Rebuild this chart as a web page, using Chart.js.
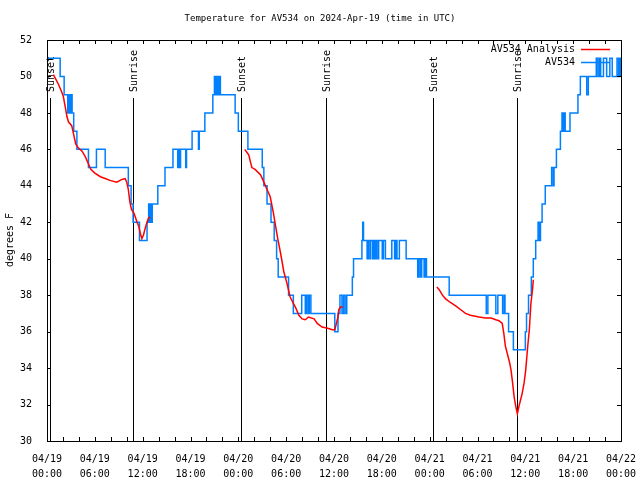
<!DOCTYPE html>
<html>
<head>
<meta charset="utf-8">
<script src="https://cdn.jsdelivr.net/npm/chart.js@4.4.1/dist/chart.umd.min.js"></script>
<style>
  html, body { margin: 0; padding: 0; background: #fff; }
  #wrap { width: 640px; height: 480px; }
</style>
</head>
<body>
<div id="wrap"><canvas id="myChart" width="640" height="480"></canvas></div>
<script>
// hours since 04/19 00:00 UTC
const obsHours = [0, 1.65, 2.15, 2.6, 2.75, 2.9, 3.05, 3.15, 3.35, 3.75, 5.2, 6.2, 7.3, 10.2, 10.55, 10.8, 11.6,
  12.55, 12.75, 12.85, 13.0, 13.1, 13.2, 13.9, 14.8, 15.8, 16.4, 16.5, 16.65, 16.75, 17.4, 17.5, 18.2, 19.0, 19.1,
  19.8, 20.8, 21.0, 21.15, 21.3, 21.45, 21.6, 21.75, 23.6, 24.0, 25.2, 27.0, 27.2, 27.6, 28.1, 28.5, 28.8, 29.0,
  30.3, 30.9, 31.95, 32.4, 32.55, 32.75, 32.9, 33.1, 36.1, 36.5, 36.75, 37.0, 37.2, 37.4, 37.6, 38.3, 38.45, 39.5,
  39.6, 39.7, 40.15, 40.3, 40.5, 40.6, 40.85, 41.0, 41.15, 41.3, 41.5, 41.6, 42.05, 42.2, 42.45, 43.25, 43.6, 43.75,
  43.9, 44.2, 45.05, 46.5, 46.65, 46.85, 47.0, 47.3, 47.45, 47.6, 50.45, 55.1, 55.3, 56.3, 56.55, 57.15, 57.35,
  57.45, 57.9, 58.5, 60.0, 60.15, 60.4, 60.75, 61.0, 61.3, 61.6, 61.75, 61.9, 62.1, 62.5, 63.3, 63.5, 63.6, 63.9,
  64.4, 64.6, 64.75, 64.85, 65.0, 65.6, 66.6, 66.9, 67.7, 67.9, 68.9, 69.1, 69.3, 69.45, 69.8, 70.2, 70.6, 70.9,
  71.5, 71.7, 71.85, 72];
const obsTemps = [51, 50, 49, 48, 49, 48, 49, 48, 47, 46, 45, 46, 45, 44, 43, 42, 41,
  42, 43, 42, 43, 42, 43, 44, 45, 46, 45, 46, 45, 46, 45, 46, 47, 46, 47,
  48, 49, 50, 49, 50, 49, 50, 49, 48, 47, 46, 45, 44, 43, 42, 41, 40, 39,
  38, 37, 38, 37, 38, 37, 38, 37, 36, 37, 38, 37, 38, 37, 38, 39, 40, 41,
  42, 41, 40, 41, 40, 41, 40, 41, 40, 41, 40, 41, 40, 41, 40, 41, 40, 41,
  40, 41, 40, 39, 40, 39, 40, 39, 40, 39, 38, 37, 38, 37, 38, 37, 38,
  37, 36, 35, 36, 37, 38, 39, 40, 41, 42, 41, 42, 43, 44, 45, 44, 45, 46,
  47, 48, 47, 48, 47, 48, 49, 50, 49, 50, 51, 50, 51, 50, 51, 50, 51, 50,
  51, 50, 51, 50];

const anaHours = [0.8, 1.4, 1.8, 2.05, 2.3, 2.5, 2.7, 3.1, 3.3, 3.6, 3.9, 4.4, 4.8, 5.2, 5.5, 6.0, 6.7, 7.3, 7.9,
  8.75, 9.4, 9.8, 10.0, 10.2, 10.4, 10.6, 10.9, 11.3, 11.5, 11.7, 11.9, 12.1, 12.4, 12.7, 12.9,
  18,
  24.8, 25.3, 25.7, 26.1, 26.8, 27.2, 27.6, 28.0, 28.4, 28.9, 29.3, 29.7, 30.1, 30.5, 31.2, 31.6, 32.0, 32.4,
  32.8, 33.5, 33.9, 34.5, 35.1, 35.8, 36.1, 36.3, 36.5, 36.6, 36.8, 37.1,
  43,
  48.9, 49.2, 49.6, 50.0, 50.6, 51.3, 51.9, 52.5, 53.1, 54.2, 55.0, 55.7, 56.3, 56.7, 57.1, 57.3, 57.5, 58.0,
  58.2, 58.4, 58.6, 58.8, 59.0, 59.2, 59.4, 59.6, 59.85, 60.05, 60.3, 60.5, 60.7, 60.9, 61.0];
const anaTemps = [50.1, 49.6, 49.2, 48.9, 48.3, 47.8, 47.5, 47.3, 46.9, 46.3, 46.1, 45.9, 45.6, 45.2, 44.9, 44.7,
  44.5, 44.4, 44.3, 44.2, 44.35, 44.4, 44.2, 43.8, 43.1, 42.7, 42.5, 42.0, 41.8, 41.4, 41.1, 41.3, 41.8, 42.2, 42.3,
  null,
  46.0, 45.7, 45.0, 44.9, 44.6, 44.2, 43.8, 43.4, 42.5, 41.2, 40.3, 39.3, 38.65, 37.9, 37.3, 36.9, 36.7, 36.65,
  36.8, 36.7, 36.45, 36.25, 36.2, 36.1, 36.1, 36.45, 36.8, 37.2, 37.35, 37.35,
  null,
  38.45, 38.3, 38.0, 37.8, 37.6, 37.4, 37.2, 37.0, 36.9, 36.8, 36.75, 36.75, 36.65, 36.6, 36.45, 35.9, 35.2, 34.35,
  33.9, 33.2, 32.4, 31.9, 31.5, 31.9, 32.25, 32.6, 33.2, 33.9, 35.2, 36.1, 37.55, 38.3, 38.85];

const sunHours = [0.34, 10.84, 24.37, 35.0, 48.45, 58.95];
const sunLabels = ['Sunset', 'Sunrise', 'Sunset', 'Sunrise', 'Sunset', 'Sunrise'];

const dayLabels = ['04/19', '04/20', '04/21', '04/22'];
const titleText = 'Temperature for AV534 on 2024-Apr-19 (time in UTC)';
const yTitle = 'degrees F';
const seriesNames = ['AV534 Analysis', 'AV534'];
const seriesColors = ['#ff0000', '#0080ff'];

const FONT = '10px "DejaVu Sans Mono", monospace';

const obsData = obsHours.map((h, i) => ({ x: h, y: obsTemps[i] }));
const anaData = anaHours.map((h, i) => ({ x: h, y: anaTemps[i] }));

function crisp(v) { return Math.round(v) + 0.5; }

// gnuplot style frame, inward ticks, sun lines, legend and titles
const gnuFrame = {
    id: 'gnuFrame',
    beforeDatasetsDraw(chart) {
        const ctx = chart.ctx;
        const a = chart.chartArea;
        const xs = chart.scales.x;
        ctx.save();
        ctx.strokeStyle = '#000';
        ctx.lineWidth = 1;
        ctx.fillStyle = '#000';
        ctx.font = FONT;
        for (let i = 0; i < sunHours.length; i++) {
            const px = crisp(xs.getPixelForValue(sunHours[i]));
            ctx.beginPath();
            ctx.moveTo(px, 98);
            ctx.lineTo(px, a.bottom);
            ctx.stroke();
            ctx.save();
            ctx.translate(px + 0.5, 92);
            ctx.rotate(-Math.PI / 2);
            ctx.textAlign = 'left';
            ctx.textBaseline = 'middle';
            ctx.fillText(sunLabels[i], 0, 0);
            ctx.restore();
        }
        ctx.restore();
    },
    afterDatasetsDraw(chart) {
        const ctx = chart.ctx;
        const a = chart.chartArea;
        const xs = chart.scales.x;
        const ys = chart.scales.y;
        ctx.save();
        ctx.strokeStyle = '#000';
        ctx.lineWidth = 1;
        ctx.strokeRect(crisp(a.left), crisp(a.top), Math.round(a.right - a.left), Math.round(a.bottom - a.top));
        ctx.beginPath();
        for (let v = 30; v <= 52; v += 2) {
            const py = crisp(ys.getPixelForValue(v));
            ctx.moveTo(a.left, py); ctx.lineTo(a.left + 4, py);
            ctx.moveTo(a.right - 4, py); ctx.lineTo(a.right, py);
        }
        for (let h = 0; h <= 72; h += 2) {
            const px = crisp(xs.getPixelForValue(h));
            ctx.moveTo(px, a.bottom); ctx.lineTo(px, a.bottom - 4);
            ctx.moveTo(px, a.top); ctx.lineTo(px, a.top + 4);
        }
        ctx.stroke();

        // legend
        ctx.font = FONT;
        ctx.fillStyle = '#000';
        ctx.textAlign = 'right';
        ctx.textBaseline = 'middle';
        const rows = [49, 62];
        for (let i = 0; i < seriesNames.length; i++) {
            ctx.fillText(seriesNames[i], 575, rows[i]);
            ctx.strokeStyle = seriesColors[i];
            ctx.lineWidth = 1.5;
            ctx.beginPath();
            ctx.moveTo(581, rows[i] + 0.5);
            ctx.lineTo(610, rows[i] + 0.5);
            ctx.stroke();
        }
        ctx.restore();
    },
    afterDraw(chart) {
        const ctx = chart.ctx;
        ctx.save();
        ctx.fillStyle = '#000';
        ctx.textAlign = 'center';
        ctx.textBaseline = 'middle';
        ctx.font = '9px "DejaVu Sans Mono", monospace';
        ctx.fillText(titleText, 320, 19);
        ctx.font = FONT;
        ctx.translate(10, 240);
        ctx.rotate(-Math.PI / 2);
        ctx.fillText(yTitle, 0, 0);
        ctx.restore();
    }
};

const ctx = document.getElementById('myChart').getContext('2d');

// eslint-disable-next-line no-undef
const chart = new Chart(ctx, {
    type: 'line',
    data: {
        datasets: [
            {
                label: seriesNames[0],
                data: anaData,
                borderColor: seriesColors[0],
                borderWidth: 1.5,
                pointRadius: 0,
                tension: 0,
                spanGaps: false
            },
            {
                label: seriesNames[1],
                data: obsData,
                borderColor: seriesColors[1],
                borderWidth: 1.5,
                pointRadius: 0,
                stepped: 'before'
            }
        ]
    },
    options: {
        responsive: false,
        animation: false,
        layout: { padding: { left: 0, right: 19, top: 40, bottom: 0 } },
        plugins: {
            legend: { display: false },
            tooltip: { enabled: false },
            title: { display: false }
        },
        scales: {
            x: {
                type: 'linear',
                min: 0,
                max: 72,
                grid: { display: false },
                border: { display: false },
                afterFit: (s) => { s.height = 39; },
                ticks: {
                    stepSize: 6,
                    autoSkip: false,
                    maxRotation: 0,
                    padding: 3,
                    color: '#000',
                    font: { family: '"DejaVu Sans Mono", monospace', size: 10, lineHeight: 1.5 },
                    callback: (v) => {
                        const day = dayLabels[Math.floor(v / 24)];
                        const hr = String(v % 24).padStart(2, '0');
                        return [day, hr + ':00'];
                    }
                }
            },
            y: {
                min: 30,
                max: 52,
                grid: { display: false },
                border: { display: false },
                afterFit: (s) => { s.width = 47; },
                ticks: {
                    stepSize: 2,
                    padding: 7,
                    color: '#000',
                    font: { family: '"DejaVu Sans Mono", monospace', size: 10 }
                }
            }
        }
    },
    plugins: [gnuFrame]
});
</script>
</body>
</html>
